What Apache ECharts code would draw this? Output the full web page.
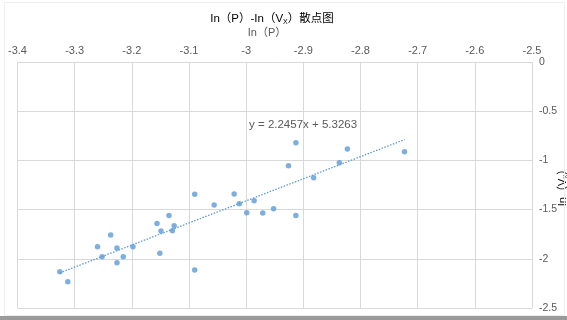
<!DOCTYPE html>
<html><head><meta charset="utf-8">
<script src="https://cdn.jsdelivr.net/npm/echarts@6/dist/echarts.min.js"></script>
<style>html,body{margin:0;padding:0;background:#fff}#c{width:567px;height:320px}</style>
</head><body><div id="c"></div>
<script>
const xVals = [-3.326,-3.312,-3.260,-3.252,-3.237,-3.226,-3.226,-3.215,-3.198,-3.156,-3.149,-3.151,-3.135,-3.126,-3.129,-3.090,-3.090,-3.056,-3.021,-3.012,-2.999,-2.986,-2.971,-2.952,-2.926,-2.913,-2.913,-2.882,-2.837,-2.823,-2.723];
const yVals = [-2.131,-2.233,-1.877,-1.978,-1.758,-1.890,-2.039,-1.978,-1.877,-1.640,-1.717,-1.944,-1.561,-1.663,-1.714,-1.345,-2.114,-1.453,-1.341,-1.440,-1.531,-1.409,-1.535,-1.491,-1.054,-0.820,-1.561,-1.176,-1.023,-0.884,-0.911];
const trendX = [-3.326, -2.723];
const trendY = [-2.143, -0.789];
const trendLabel = 'y = 2.2457x + 5.3263';
const trendLabelPos = [-2.995, -0.64];
const xTicks = [-3.4, -2.5, 0.1];
const yTicks = [-2.5, 0, 0.5];

const font = '"Liberation Sans","Noto Sans CJK SC",sans-serif';
const gray = '#595959';
const chart = echarts.init(document.getElementById('c'));
const pts = xVals.map((x,i)=>[x,yVals[i]]);
const richA = {fontFamily:font,fontSize:11.5,color:gray,fontWeight:'normal'};
const richS = {fontFamily:font,fontSize:7,color:gray,fontWeight:'normal',verticalAlign:'bottom',padding:[6,0,0,0]};
chart.setOption({
  animation:false,
  backgroundColor:'#fff',
  grid:{left:17.5,right:35,top:62,bottom:12,outerBoundsMode:'none',containLabel:false},
  xAxis:{type:'value',position:'top',min:xTicks[0],max:xTicks[1],interval:xTicks[2],
    axisLine:{show:false},axisTick:{show:false},
    axisLabel:{fontFamily:font,fontSize:11,color:gray,margin:6,showMinLabel:true,showMaxLabel:true,hideOverlap:false},
    splitLine:{lineStyle:{color:'#d9d9d9'}}
  },
  yAxis:{type:'value',position:'right',min:yTicks[0],max:yTicks[1],interval:yTicks[2],
    axisLine:{show:false},axisTick:{show:false},
    axisLabel:{fontFamily:font,fontSize:10.5,color:gray,margin:7},
    splitLine:{lineStyle:{color:'#d9d9d9'}}
  },
  series:[
    {type:'line',data:trendX.map((x,i)=>[x,trendY[i]]),symbol:'none',
     lineStyle:{color:'#5b9bd5',width:1.3,type:[1.5,1.5]},z:1},
    {type:'scatter',data:pts,symbolSize:5.5,itemStyle:{color:'#5b9bd5'},z:2}
  ]
});
const p = chart.convertToPixel({gridIndex:0}, trendLabelPos);
chart.setOption({graphic:[
  {type:'text',x:272,y:19,style:{text:'{a|In（P）-In（V}{s|X}{a|）散点图}',align:'center',verticalAlign:'middle',rich:{a:richA,s:richS}}},
  {type:'text',x:267,y:33,style:{text:'In（P）',align:'center',verticalAlign:'middle',font:'11px '+font,fill:gray}},
  {type:'text',x:563,y:185,rotation:Math.PI/2,style:{text:'{a|In（V}{s|X}{a|）}',align:'center',verticalAlign:'middle',
    rich:{a:Object.assign({},richA,{fontSize:11}),s:Object.assign({},richS,{fontSize:6,padding:[5,0,0,0]})}}},
  {type:'text',x:p[0],y:p[1],style:{text:trendLabel,align:'left',verticalAlign:'middle',font:'11.5px '+font,fill:gray}},
  {type:'rect',shape:{x:0,y:316,width:567,height:4},style:{fill:'#9a9a9a'}},
  {type:'rect',shape:{x:4.5,y:2.5,width:560,height:313},style:{fill:'none',stroke:'#eeeeee',lineWidth:1}}
]});
</script></body></html>
